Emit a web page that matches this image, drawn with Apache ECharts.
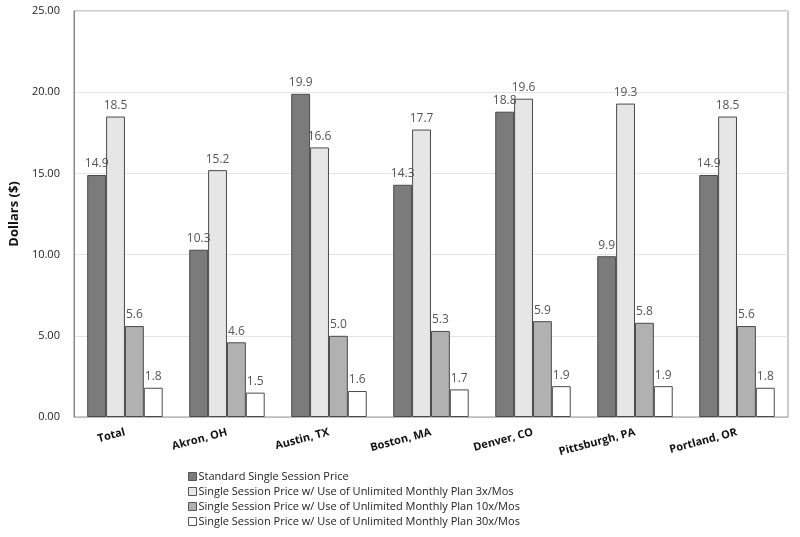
<!DOCTYPE html>
<html>
<head>
<meta charset="utf-8">
<script src="https://cdn.jsdelivr.net/npm/echarts@6/dist/echarts.min.js"></script>
<style>
  html, body { margin: 0; padding: 0; background: #fff; }
  #chart { width: 800px; height: 537px; }
</style>
</head>
<body>
<div id="chart"></div>
<script>
const categories = ["Total", "Akron, OH", "Austin, TX", "Boston, MA", "Denver, CO", "Pittsburgh, PA", "Portland, OR"];
const standardPrice = [14.9, 10.3, 19.9, 14.3, 18.8, 9.9, 14.9];
const plan3x = [18.5, 15.2, 16.6, 17.7, 19.6, 19.3, 18.5];
const plan10x = [5.6, 4.6, 5.0, 5.3, 5.9, 5.8, 5.6];
const plan30x = [1.8, 1.5, 1.6, 1.7, 1.9, 1.9, 1.8];

const seriesNames = [
  "Standard Single Session Price",
  "Single Session Price w/ Use of Unlimited Monthly Plan 3x/Mos",
  "Single Session Price w/ Use of Unlimited Monthly Plan 10x/Mos",
  "Single Session Price w/ Use of Unlimited Monthly Plan 30x/Mos"
];
const seriesData = [standardPrice, plan3x, plan10x, plan30x];
const fills = ["#7b7b7b", "#e6e6e6", "#b1b1b1", "#ffffff"];

const font = "Open Sans, Calibri, sans-serif";

const chart = echarts.init(document.getElementById("chart"));

// one bar series per price type
const series = seriesData.map((data, i) => ({
  name: seriesNames[i],
  type: "bar",
  data: data,
  barGap: "0%",
  barCategoryGap: "26%",
  itemStyle: { color: fills[i], borderColor: "#4a4a4a", borderWidth: 1 },
  label: {
    show: true,
    position: "top",
    distance: 5,
    formatter: (p) => p.value.toFixed(1),
    color: "#555",
    fontSize: 12,
    fontFamily: font
  }
}));

chart.setOption({
  animation: false,
  backgroundColor: "#fff",
  grid: {
    left: 69, right: 12, top: 11, bottom: 120,
    show: true, borderColor: "#999", borderWidth: 1
  },
  legend: {
    orient: "vertical",
    left: 188,
    top: 471,
    height: 66,
    padding: 0,
    itemWidth: 8,
    itemHeight: 8,
    itemGap: 4,
    icon: "rect",
    data: seriesNames.map((n, i) => ({
      name: n,
      itemStyle: { color: fills[i], borderColor: "#555", borderWidth: 1 }
    })),
    textStyle: { fontSize: 11, lineHeight: 11, color: "#222", fontFamily: font, padding: [0, 0, 0, -3] }
  },
  xAxis: {
    type: "category",
    data: categories,
    axisTick: { show: false },
    axisLine: { lineStyle: { color: "#bbb" } },
    axisLabel: {
      rotate: 15,
      interval: 0,
      margin: 15,
      fontWeight: "bold",
      fontSize: 11,
      color: "#111",
      fontFamily: font
    }
  },
  yAxis: {
    type: "value",
    min: 0,
    max: 25,
    interval: 5,
    name: "Dollars ($)",
    nameLocation: "middle",
    nameGap: 46,
    nameTextStyle: { fontWeight: "bold", fontSize: 13, color: "#111", fontFamily: font },
    axisLine: { show: true, lineStyle: { color: "#888" } },
    axisTick: { show: false },
    splitLine: { lineStyle: { color: "#e4e4e4" } },
    axisLabel: {
      formatter: (v) => v.toFixed(2),
      color: "#222",
      fontSize: 11,
      margin: 14,
      fontFamily: font
    }
  },
  series: series
});
</script>
</body>
</html>
